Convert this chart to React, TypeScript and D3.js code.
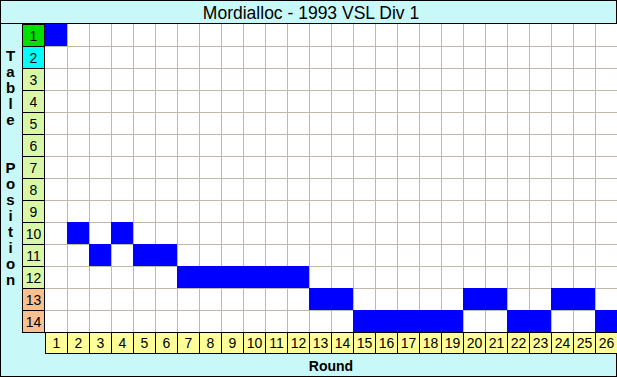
import React from "react";
import * as d3 from "d3";

const rounds = d3.range(1, 27);
const positionsList = d3.range(1, 15);
const positionByRound = [1, 10, 11, 10, 11, 11, 12, 12, 12, 12, 12, 12, 13, 13, 14, 14, 14, 14, 14, 13, 13, 14, 14, 13, 13, 14];
const yLabelText = "Table  Position";
const title = "Mordialloc - 1993 VSL Div 1";
const xTitle = "Round";

const W = 617, H = 377;
const gridLeft = 45, gridTop = 24, cell = 22;

function posColor(p: number) {
  if (p === 1) return "#00e000";
  if (p === 2) return "#00ffff";
  if (p >= 13) return "#f8c090";
  return "#d8f8a8";
}

export default function App() {
  const x = d3.scaleBand<number>().domain(rounds).range([gridLeft, gridLeft + cell * rounds.length]);
  const y = d3.scaleBand<number>().domain(positionsList).range([gridTop, gridTop + cell * positionsList.length]);
  const gridRight = gridLeft + cell * rounds.length;
  const gridBottom = gridTop + cell * positionsList.length;
  const letters = yLabelText.split("");
  return (
    <div style={{ position: "absolute", left: 0, top: 0 }}>
      <svg width={W} height={H} style={{ display: "block", fontFamily: "Arial, 'Liberation Sans', sans-serif" }}>
        <rect x={0} y={0} width={W} height={H} fill="#c8f8f8" />
        <rect x={0.5} y={0.5} width={W - 1} height={H - 1} fill="none" stroke="#000" />
        <line x1={0} x2={W} y1={23.5} y2={23.5} stroke="#000" />
        <text x={311} y={19} textAnchor="middle" fontSize={17.5} fill="#000">{title}</text>
        <rect x={gridLeft} y={gridTop} width={gridRight - gridLeft} height={gridBottom - gridTop} fill="#fff" />
        {rounds.slice(1).map((r) => (
          <line key={"v" + r} x1={x(r)! + 0.5} x2={x(r)! + 0.5} y1={gridTop} y2={gridBottom} stroke="#c0b8a8" />
        ))}
        {positionsList.slice(1).map((p) => (
          <line key={"h" + p} x1={gridLeft} x2={gridRight} y1={y(p)! + 0.5} y2={y(p)! + 0.5} stroke="#c0b8a8" />
        ))}
        {positionByRound.map((p, i) => (
          <rect key={"c" + i} x={x(rounds[i])!} y={y(p)!} width={x.bandwidth()} height={y.bandwidth()} fill="#0000ff" />
        ))}
        {positionsList.map((p) => (
          <g key={"p" + p}>
            <rect x={22.5} y={y(p)! + 0.5} width={gridLeft - 23} height={cell} fill={posColor(p)} stroke="#000" />
            <text x={33.5} y={y(p)! + 17} textAnchor="middle" fontSize={14} fill="#000">{p}</text>
          </g>
        ))}
        {rounds.map((r) => (
          <g key={"r" + r}>
            <rect x={x(r)! + 0.5} y={gridBottom + 0.5} width={cell} height={cell - 1} fill="#ffff99" stroke="#000" />
            <text x={x(r)! + cell / 2 + 0.5} y={gridBottom + 16} textAnchor="middle" fontSize={14} fill="#000">{r}</text>
          </g>
        ))}
        {letters.map((ch, i) => (
          <text key={"l" + i} x={10.5} y={61 + i * 16} textAnchor="middle" fontSize={15} fontWeight="bold" fill="#000">{ch}</text>
        ))}
        <text x={331} y={371} textAnchor="middle" fontSize={14} fontWeight="bold" fill="#000">{xTitle}</text>
      </svg>
    </div>
  );
}
